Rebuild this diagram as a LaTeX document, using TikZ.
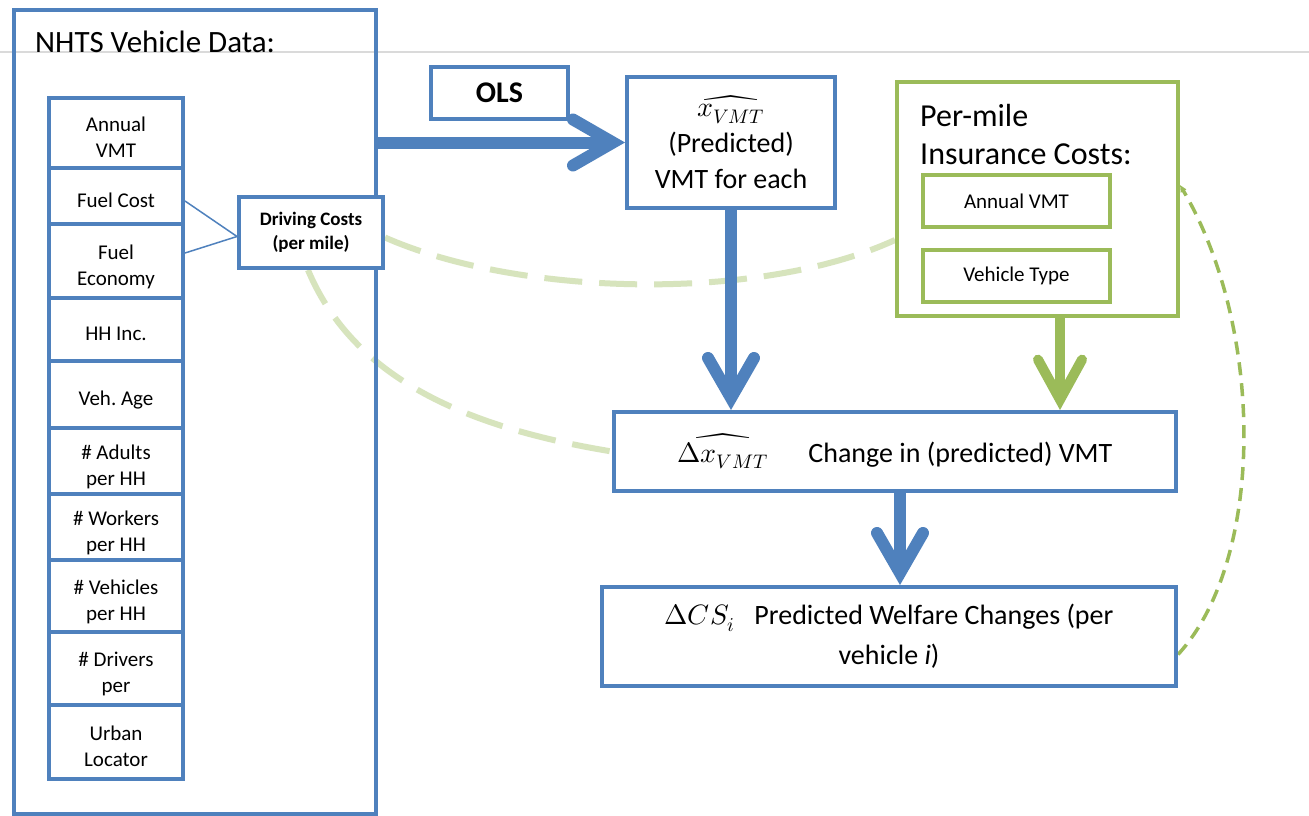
\documentclass[tikz,border=0pt]{standalone}
\usepackage{fontspec}
\usepackage{unicode-math}
\setmainfont{Carlito}
\usetikzlibrary{arrows.meta}
\definecolor{blueC}{HTML}{4F81BD}
\definecolor{greenC}{HTML}{9BBB59}
\definecolor{lightG}{HTML}{D7E4BD}
\definecolor{grayL}{HTML}{DADADA}
\pgfdeclarelayer{bottom}
\pgfdeclarelayer{background}
\pgfsetlayers{bottom,background,main}
\newcommand{\lowtxt}[1]{\raisebox{-6pt}[\height][\depth]{\begin{tabular}{@{}c@{}}#1\end{tabular}}}
\begin{document}
\begin{tikzpicture}[x=1pt,y=-1pt,
  box/.style={line width=4pt, fill=white, inner sep=0pt, align=center, font=\fontsize{21}{26}\selectfont},
  bbox/.style={box, draw=blueC},
  gbox/.style={box, draw=greenC},
  colbox/.style={bbox, minimum width=134pt},
  midtext/.style={font=\fontsize{28}{36}\selectfont},
  bigarrow/.style={draw=blueC, line width=12pt, -{Straight Barb[length=40pt, width=46pt, line cap=round]}},
  greenarrow/.style={draw=greenC, line width=10pt, -{Straight Barb[length=40pt, width=44pt, line cap=round]}},
  thinlink/.style={draw=blueC, line width=1.5pt},
  softdash/.style={draw=lightG, line width=6pt, dash pattern=on 38pt off 17pt},
  greendash/.style={draw=greenC, line width=3.5pt, dash pattern=on 13pt off 8pt},
  hairline/.style={draw=grayL, line width=1.5pt}]
\useasboundingbox (0,0) rectangle (1309,816);
\begin{pgfonlayer}{bottom}
\fill[white] (0,0) rectangle (1309,816);
\end{pgfonlayer}

% NHTS outer box
\node[draw=blueC, line width=4pt, inner sep=0pt, minimum width=362pt, minimum height=804pt] (nhts) at (195,412) {};
\node[anchor=base west, font=\fontsize{31}{38}\selectfont, inner sep=0pt] (hdr) at (35,53) {NHTS Vehicle Data:};

% column of variables
\node[colbox, minimum height=70pt] (vmt) at (116,133) {\lowtxt{Annual\\VMT}};
\node[colbox, minimum height=56pt] (fcost) at (116,196) {\lowtxt{Fuel Cost}};
\node[colbox, minimum height=74pt] (fecon) at (116,261) {\lowtxt{Fuel\\Economy}};
\node[colbox, minimum height=63pt] (hhinc) at (116,329.5) {\lowtxt{HH Inc.}};
\node[colbox, minimum height=67pt] (vage) at (116,394.5) {\lowtxt{Veh.\ Age}};
\node[colbox, minimum height=66pt] (adults) at (116,461) {\lowtxt{\# Adults\\per HH}};
\node[colbox, minimum height=66pt] (workers) at (116,527) {\lowtxt{\# Workers\\per HH}};
\node[colbox, minimum height=72pt] (vehs) at (116,596) {\lowtxt{\# Vehicles\\per HH}};
\node[colbox, minimum height=73pt] (drivers) at (116,668.5) {\lowtxt{\# Drivers\\per}};
\node[colbox, minimum height=74pt] (urban) at (116,742) {\lowtxt{Urban\\Locator}};

% driving costs
\node[bbox, minimum width=144pt, minimum height=71pt, font=\bfseries\fontsize{19}{24}\selectfont] (dc) at (311,232.5) {Driving Costs\\(per mile)};
\draw[thinlink] ([yshift=-5pt]fcost.east) -- ([yshift=-4pt]dc.west);
\draw[thinlink] ([yshift=8pt]fecon.east) -- ([yshift=-4pt]dc.west);

% OLS
\node[bbox, minimum width=137pt, minimum height=52pt, font=\bfseries\fontsize{30}{34}\selectfont] (ols) at (499.5,93) {OLS};

% predicted VMT
\node[bbox, midtext, minimum width=208pt, minimum height=131pt] (xhat) at (731,142.5) {$\widehat{x_{VMT}}$\\(Predicted)\\VMT for each};

% insurance
\node[gbox, minimum width=281pt, minimum height=234pt] (ins) at (1037.5,199) {};
\node[anchor=base west, inner sep=0pt, font=\fontsize{32}{38}\selectfont] (insA) at (920,126) {Per-mile};
\node[anchor=base west, inner sep=0pt, font=\fontsize{32}{38}\selectfont] (insB) at (920,164) {Insurance Costs:};
\node[gbox, minimum width=187pt, minimum height=52pt] (ivmt) at (1016.5,201) {Annual VMT};
\node[gbox, minimum width=187pt, minimum height=52pt] (itype) at (1016.5,276) {Vehicle Type};

% change in VMT
\node[bbox, midtext, minimum width=562pt, minimum height=79pt] (dx) at (895,451.5) {$\widehat{\Delta x_{VMT}}$\hspace{40pt}Change in (predicted) VMT};

% welfare
\node[bbox, font=\fontsize{28}{40}\selectfont, minimum width=574pt, minimum height=99pt] (dcs) at (889,636.5) {$\Delta CS_i$\hspace{20pt}Predicted Welfare Changes (per\\vehicle \textit{i})};

% arrows
\draw[bigarrow] (nhts.east |- xhat.west) -- (xhat.west);
\draw[bigarrow] (xhat.south) -- (xhat.south |- dx.north);
\draw[greenarrow] ([xshift=22.5pt]ins.south) -- ([xshift=22.5pt]ins.south |- dx.north);
\draw[bigarrow] ([xshift=5pt]dx.south) -- ([xshift=5pt]dx.south |- dcs.north);

\begin{pgfonlayer}{background}
\draw[hairline] (0,52) -- (1309,52);
\draw[softdash] ([yshift=-5pt]dc.east) .. controls (520,297) and (760,302) .. ([yshift=-41pt]ins.west);
\draw[softdash] ([xshift=-3pt]dc.south) .. controls (350,370) and (450,425) .. (dx.west);
\draw[greendash, -{Triangle[length=7pt, width=6pt]}] ([yshift=-18pt]dcs.east) .. controls (1265,560) and (1265,330) .. ([yshift=14pt]ins.east);
\end{pgfonlayer}
\end{tikzpicture}
\end{document}
